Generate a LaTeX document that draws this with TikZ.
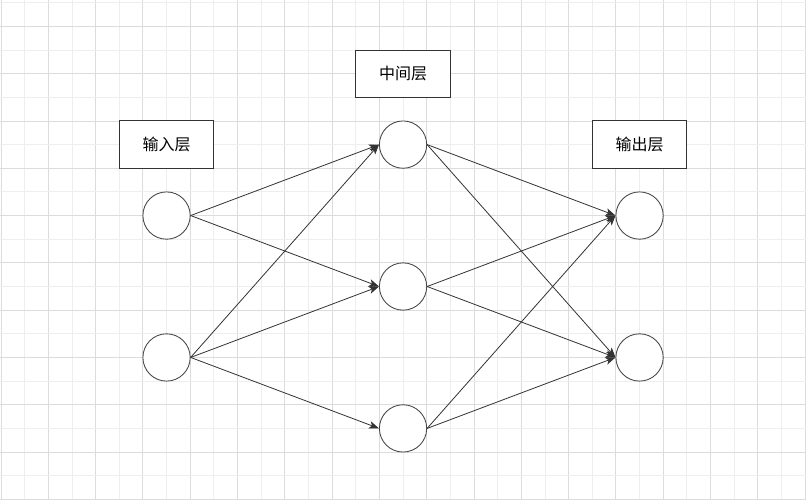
\documentclass[tikz,border=0pt]{standalone}
\usepackage{fontspec}
\newfontfamily\cjk{Noto Sans CJK SC}
\usetikzlibrary{arrows.meta}
\definecolor{gridmajor}{HTML}{DCDCDC}
\definecolor{gridminor}{HTML}{EEEEEE}
\definecolor{ink}{HTML}{333333}
\definecolor{ring}{HTML}{444444}
\tikzset{
  neuron/.style={circle, draw=ring, line width=0.85pt, minimum size=47.3pt, inner sep=0pt, fill=white},
  layerlabel/.style={rectangle, draw=ink, line width=1pt, minimum width=94.6pt, minimum height=47.3pt, inner sep=0pt, fill=white, font=\cjk\fontsize{16}{18}\selectfont, text=black},
  link/.style={draw=ink, line width=0.8pt, -{Stealth[length=10pt,width=7.5pt,inset=2.5pt]}}
}
\begin{document}
\begin{tikzpicture}[x=23.65pt, y=-23.65pt]
\useasboundingbox (-0.0423,-0.1142) rectangle (34.038,21.027);
\fill[white] (-0.0423,-0.1142) rectangle (34.038,21.027);
% grid
\foreach \i in {0,...,34} {
  \pgfmathtruncatemacro{\gpar}{mod(\i,2)}
  \ifnum\gpar=0
    \draw[gridmajor, line width=0.9pt] (\i,-0.2) -- (\i,21.1);
  \else
    \draw[gridminor, line width=0.9pt] (\i,-0.2) -- (\i,21.1);
  \fi
}
\foreach \j in {0,...,21} {
  \pgfmathtruncatemacro{\gpar}{mod(\j,2)}
  \ifnum\gpar=1
    \draw[gridmajor, line width=0.9pt] (-0.1,\j) -- (34.1,\j);
  \else
    \draw[gridminor, line width=0.9pt] (-0.1,\j) -- (34.1,\j);
  \fi
}
% labels
\node[layerlabel] (linput) at (7,6) {输入层};
\node[layerlabel] (lmid) at (17,3) {中间层};
\node[layerlabel] (lout) at (27,6) {输出层};
% neurons
\node[neuron] (i1) at (7,9) {};
\node[neuron] (i2) at (7,15) {};
\node[neuron] (h1) at (17,6) {};
\node[neuron] (h2) at (17,12) {};
\node[neuron] (h3) at (17,18) {};
\node[neuron] (o1) at (27,9) {};
\node[neuron] (o2) at (27,15) {};
% connections
\draw[link] (i1.east) -- (h1.west);
\draw[link] (i1.east) -- (h2.west);
\draw[link] (i2.east) -- (h1.west);
\draw[link] (i2.east) -- (h2.west);
\draw[link] (i2.east) -- (h3.west);
\draw[link] (h1.east) -- (o1.west);
\draw[link] (h1.east) -- (o2.west);
\draw[link] (h2.east) -- (o1.west);
\draw[link] (h2.east) -- (o2.west);
\draw[link] (h3.east) -- (o1.west);
\draw[link] (h3.east) -- (o2.west);
\end{tikzpicture}
\end{document}
